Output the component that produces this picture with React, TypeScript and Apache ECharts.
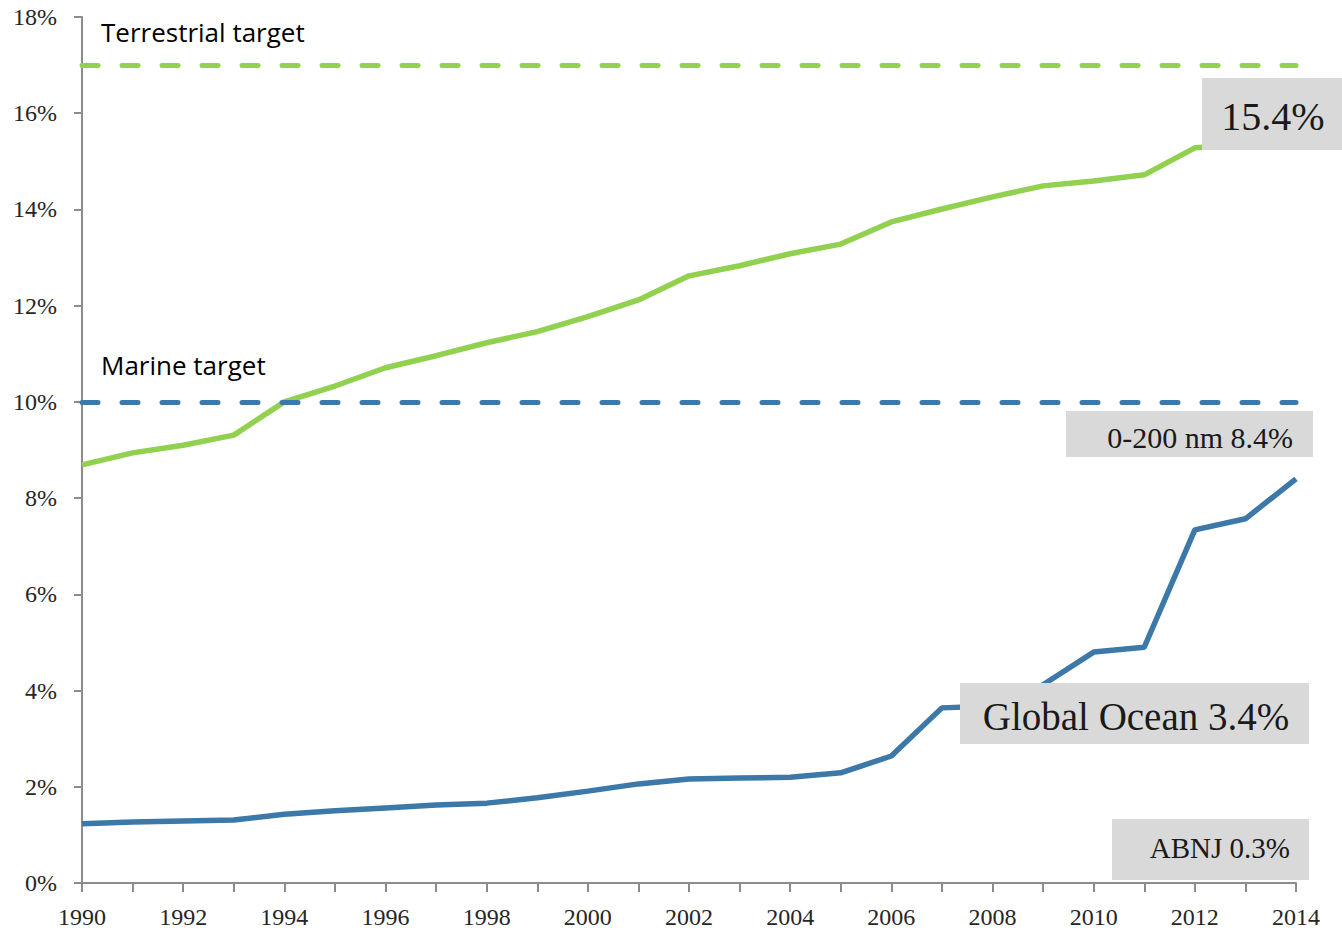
import React, { useEffect, useRef } from "react";
import * as echarts from "echarts";

const years = ["1990","1991","1992","1993","1994","1995","1996","1997","1998","1999","2000","2001","2002","2003","2004","2005","2006","2007","2008","2009","2010","2011","2012","2013","2014"];
const terrestrial = [8.69,8.94,9.1,9.31,10.0,10.33,10.71,10.96,11.23,11.46,11.77,12.12,12.62,12.83,13.08,13.28,13.74,14.01,14.26,14.49,14.59,14.72,15.28,15.35,15.4];
const marine = [1.23,1.27,1.29,1.31,1.43,1.5,1.56,1.62,1.66,1.77,1.91,2.06,2.16,2.18,2.2,2.29,2.64,3.64,3.68,4.12,4.8,4.9,7.34,7.57,8.4];
const terrestrialTarget = 17;
const marineTarget = 10;

const GREEN = "#92D050";
const BLUE = "#3C78A8";
const SERIF = "'Liberation Serif', 'DejaVu Serif', serif";
const SANS = "'Open Sans', 'Noto Sans', sans-serif";

function box(x: number, y: number, w: number, h: number, text: string, tx: number, ty: number, size: number, align: string) {
  return {
    type: "group",
    z: 100,
    children: [
      { type: "rect", shape: { x, y, width: w, height: h }, style: { fill: "#D9D9D9" }, z: 100 },
      { type: "text", z: 101, style: { text, x: tx, y: ty, font: `${size}px ${SERIF}`, fill: "#1a1a1a", align, verticalAlign: "middle" } },
    ],
  };
}

export default function App() {
  const ref = useRef<HTMLDivElement>(null);
  useEffect(() => {
    document.body.style.margin = "0";
    const chart = echarts.init(ref.current!, null, { renderer: "svg" });
    const dashed = (color: string, value: number) => ({
      silent: true,
      symbol: "none",
      label: { show: false },
      lineStyle: { color, width: 5, type: [16, 24], cap: "round" },
      data: [{ yAxis: value }],
    });
    chart.setOption({
      animation: false,
      grid: { left: 82, right: 46, top: 17, bottom: 52 },
      xAxis: {
        type: "category",
        data: years,
        boundaryGap: false,
        axisLine: { lineStyle: { color: "#8c8c8c", width: 2 } },
        axisTick: { show: true, interval: 0, length: 9, lineStyle: { color: "#8c8c8c", width: 2 } },
        axisLabel: { interval: 1, margin: 22, fontFamily: SERIF, fontSize: 24, color: "#262626" },
        splitLine: { show: false },
      },
      yAxis: {
        type: "value",
        min: 0,
        max: 18,
        interval: 2,
        axisLine: { show: true, lineStyle: { color: "#8c8c8c", width: 2 } },
        axisTick: { show: true, length: 8, lineStyle: { color: "#8c8c8c", width: 2 } },
        axisLabel: { formatter: "{value}%", margin: 25, fontFamily: SERIF, fontSize: 24, color: "#262626" },
        splitLine: { show: false },
      },
      series: [
        {
          type: "line",
          name: "Terrestrial",
          data: terrestrial,
          symbol: "none",
          lineStyle: { color: GREEN, width: 5.5 },
          markLine: dashed(GREEN, terrestrialTarget),
        },
        {
          type: "line",
          name: "Marine",
          data: marine,
          symbol: "none",
          lineStyle: { color: BLUE, width: 5.5 },
          markLine: dashed(BLUE, marineTarget),
        },
      ],
      graphic: [
        { type: "text", z: 50, style: { text: "Terrestrial target", x: 101, y: 32, font: `26px ${SANS}`, fill: "#000", align: "left", verticalAlign: "middle" } },
        { type: "text", z: 50, style: { text: "Marine target", x: 101, y: 365, font: `26px ${SANS}`, fill: "#000", align: "left", verticalAlign: "middle" } },
        box(1202, 78, 140, 72, "15.4%", 1273, 116, 40, "center"),
        box(1066, 411, 247, 46, "0-200 nm 8.4%", 1293, 437, 30, "right"),
        box(960, 683, 349, 61, "Global Ocean 3.4%", 1136, 716, 39, "center"),
        box(1112, 819, 197, 61, "ABNJ 0.3%", 1290, 848, 29, "right"),
      ],
    });
    return () => chart.dispose();
  }, []);
  return <div ref={ref} style={{ width: 1342, height: 935 }} />;
}
